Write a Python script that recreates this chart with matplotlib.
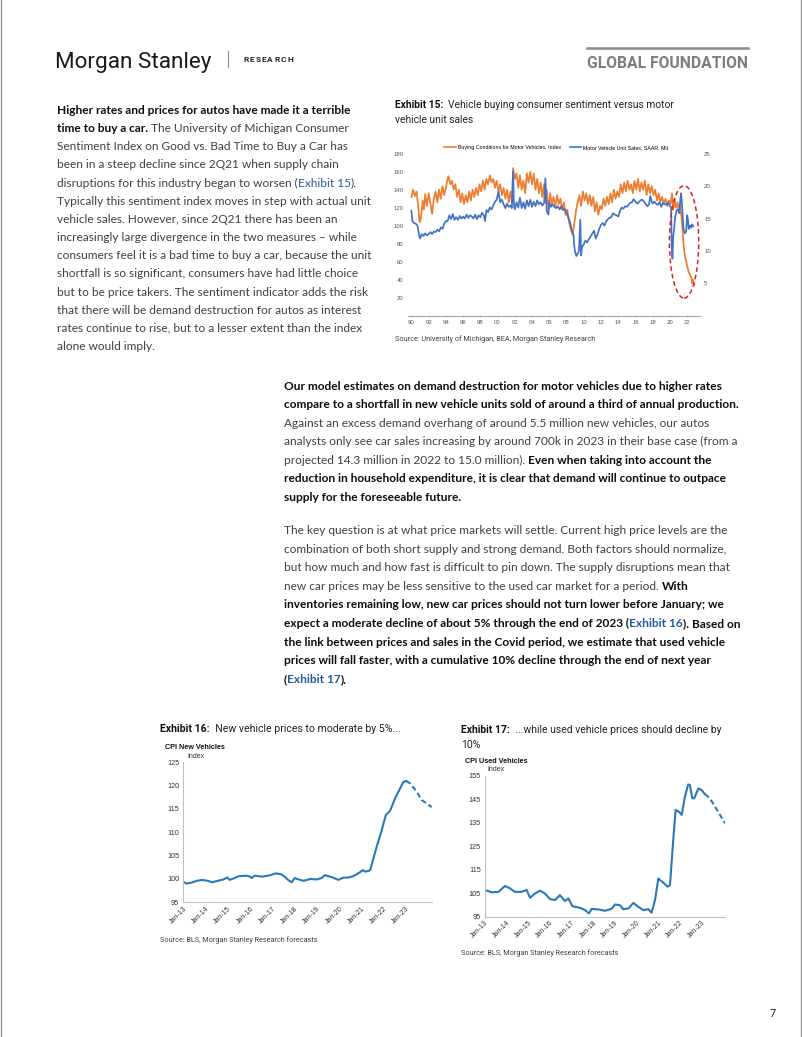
import matplotlib
matplotlib.use("Agg")
import matplotlib.pyplot as plt
from matplotlib.font_manager import FontProperties
from matplotlib.patches import Ellipse
from matplotlib.lines import Line2D

# ---------------- DATA ----------------
# Exhibit 15: buying conditions index (left axis) and unit sales SAAR mil (right axis)
sent_x = [1990.0, 1990.2, 1990.4, 1990.6, 1990.8, 1990.95, 1991.1, 1991.3, 1991.45, 1991.6, 1991.8,
          1992.0, 1992.2, 1992.4, 1992.6, 1992.8, 1993.0, 1993.2, 1993.4, 1993.6, 1993.8, 1994.0,
          1994.15, 1994.3, 1994.5, 1994.7, 1994.9, 1995.1, 1995.3, 1995.5, 1995.7, 1995.9, 1996.1,
          1996.3, 1996.5, 1996.7, 1996.9, 1997.1, 1997.3, 1997.5, 1997.7, 1997.9, 1998.1, 1998.3,
          1998.5, 1998.7, 1998.9, 1999.1, 1999.3, 1999.5, 1999.7, 1999.9, 2000.1, 2000.3, 2000.5,
          2000.7, 2000.9, 2001.1, 2001.3, 2001.5, 2001.7, 2001.8, 2002.0, 2002.2, 2002.4, 2002.6,
          2002.8, 2003.0, 2003.2, 2003.4, 2003.6, 2003.8, 2004.0, 2004.2, 2004.4, 2004.6, 2004.8,
          2005.0, 2005.2, 2005.4, 2005.55, 2005.7, 2005.9, 2006.1, 2006.3, 2006.5, 2006.7, 2006.9,
          2007.1, 2007.3, 2007.5, 2007.7, 2007.9, 2008.1, 2008.3, 2008.5, 2008.7, 2008.9, 2009.1,
          2009.3, 2009.5, 2009.7, 2009.9, 2010.1, 2010.3, 2010.5, 2010.7, 2010.9, 2011.1, 2011.3,
          2011.5, 2011.7, 2011.9, 2012.1, 2012.3, 2012.5, 2012.7, 2012.9, 2013.1, 2013.3, 2013.5,
          2013.7, 2013.9, 2014.1, 2014.3, 2014.5, 2014.7, 2014.9, 2015.1, 2015.3, 2015.5, 2015.7,
          2015.9, 2016.1, 2016.3, 2016.5, 2016.7, 2016.9, 2017.1, 2017.3, 2017.5, 2017.7, 2017.9,
          2018.1, 2018.3, 2018.5, 2018.7, 2018.9, 2019.1, 2019.3, 2019.5, 2019.7, 2019.9, 2020.1,
          2020.25, 2020.4, 2020.55, 2020.7, 2020.9, 2021.05, 2021.2, 2021.35, 2021.5, 2021.6,
          2021.75, 2021.9, 2022.05, 2022.2, 2022.35, 2022.5, 2022.6, 2022.7, 2022.8]
sent_y = [132, 140, 133, 138, 120, 104, 108, 128, 118, 135, 122,
          136, 125, 113, 130, 138, 126, 140, 130, 144, 134, 142,
          150, 155, 146, 150, 140, 146, 132, 140, 126, 136, 124,
          134, 126, 138, 128, 140, 132, 142, 134, 146, 138, 150,
          140, 152, 146, 156, 148, 152, 142, 150, 138, 146, 134,
          142, 130, 140, 126, 138, 124, 164, 152, 158, 142, 156,
          140, 150, 136, 158, 148, 160, 146, 158, 140, 152, 136,
          148, 132, 146, 126, 140, 118, 136, 124, 132, 120, 134,
          124, 130, 118, 126, 112, 118, 104, 96, 90, 102, 116,
          126, 134, 122, 138, 128, 136, 124, 134, 122, 132, 116,
          126, 112, 122, 118, 130, 122, 132, 124, 136, 126, 140,
          130, 138, 132, 146, 136, 148, 138, 150, 140, 146, 136,
          150, 140, 152, 138, 148, 140, 150, 134, 146, 136, 144,
          134, 140, 128, 136, 126, 132, 124, 130, 122, 128, 124,
          136, 118, 130, 120, 126, 116, 122, 110, 92, 78,
          66, 60, 54, 48, 45, 42, 36, 40, 34]

sales_x = [1990.0, 1990.1, 1990.3, 1990.5, 1990.7, 1990.9, 1991.0, 1991.2, 1991.4, 1991.6, 1991.8,
           1992.0, 1992.2, 1992.4, 1992.6, 1992.8, 1993.0, 1993.2, 1993.4, 1993.6, 1993.8, 1994.0,
           1994.2, 1994.4, 1994.6, 1994.8, 1995.0, 1995.2, 1995.4, 1995.6, 1995.8, 1996.0, 1996.2,
           1996.4, 1996.6, 1996.8, 1997.0, 1997.2, 1997.4, 1997.6, 1997.8, 1998.0, 1998.2, 1998.4,
           1998.55, 1998.7, 1998.9, 1999.1, 1999.3, 1999.5, 1999.7, 1999.9, 2000.1, 2000.3, 2000.5,
           2000.7, 2000.9, 2001.1, 2001.3, 2001.5, 2001.65, 2001.8, 2001.9, 2002.0, 2002.2, 2002.4,
           2002.6, 2002.8, 2003.0, 2003.2, 2003.4, 2003.6, 2003.8, 2004.0, 2004.2, 2004.4, 2004.6,
           2004.8, 2005.0, 2005.2, 2005.4, 2005.55, 2005.7, 2005.9, 2006.0, 2006.2, 2006.4, 2006.6,
           2006.8, 2007.0, 2007.2, 2007.4, 2007.6, 2007.8, 2008.0, 2008.2, 2008.4, 2008.6, 2008.8,
           2008.9, 2009.0, 2009.15, 2009.3, 2009.45, 2009.6, 2009.7, 2009.8, 2010.0, 2010.2, 2010.4,
           2010.6, 2010.8, 2011.0, 2011.2, 2011.4, 2011.6, 2011.8, 2012.0, 2012.2, 2012.4, 2012.6,
           2012.8, 2013.0, 2013.2, 2013.4, 2013.6, 2013.8, 2014.0, 2014.2, 2014.4, 2014.6, 2014.8,
           2015.0, 2015.2, 2015.4, 2015.6, 2015.8, 2016.0, 2016.2, 2016.4, 2016.6, 2016.8, 2017.0,
           2017.2, 2017.4, 2017.6, 2017.72, 2017.9, 2018.0, 2018.2, 2018.4, 2018.6, 2018.8, 2019.0,
           2019.2, 2019.4, 2019.6, 2019.8, 2020.0, 2020.15, 2020.2, 2020.3, 2020.4, 2020.5, 2020.6,
           2020.8, 2020.95, 2021.1, 2021.2, 2021.3, 2021.4, 2021.5, 2021.6, 2021.75, 2021.9, 2022.0,
           2022.1, 2022.2, 2022.35, 2022.5, 2022.6, 2022.7]
sales_y = [16.2, 14.6, 14.3, 14.2, 13.9, 12.4, 11.9, 12.6, 12.3, 12.7, 12.4,
           12.6, 12.9, 12.6, 13.0, 12.9, 13.3, 13.0, 13.6, 13.4, 14.2, 14.6,
           14.6, 15.5, 14.9, 15.7, 14.8, 15.2, 14.8, 15.4, 15.0, 15.3, 15.0,
           15.6, 15.1, 15.5, 15.3, 15.0, 15.6, 14.9, 15.5, 15.2, 15.9, 15.5,
           14.6, 16.3, 16.0, 16.7, 16.4, 17.0, 17.6, 17.9, 19.2, 17.5, 17.9,
           17.2, 16.6, 17.3, 16.8, 17.0, 16.6, 22.3, 17.0, 16.4, 17.5, 16.7,
           18.2, 16.6, 17.5, 16.5, 17.8, 16.9, 17.9, 16.8, 17.6, 16.9, 17.8,
           17.2, 17.5, 17.0, 17.4, 21.2, 16.2, 15.6, 17.5, 16.8, 17.2, 16.8,
           16.6, 16.9, 16.4, 16.9, 16.3, 16.5, 15.9, 15.2, 14.5, 13.2, 12.6,
           10.8, 9.8, 9.2, 9.6, 10.0, 14.8, 9.3, 10.6, 11.0, 11.6, 11.3,
           11.8, 12.2, 12.7, 13.1, 11.9, 12.5, 13.4, 14.0, 14.3, 13.9, 14.5,
           14.9, 15.1, 15.2, 15.8, 15.6, 15.5, 15.3, 16.1, 16.7, 16.5, 16.9,
           16.8, 17.1, 17.4, 17.5, 18.0, 17.6, 17.3, 17.5, 17.8, 17.9, 17.6,
           17.2, 16.9, 17.2, 18.5, 17.6, 17.3, 17.6, 17.3, 17.1, 17.5, 16.8,
           17.4, 17.2, 17.1, 17.5, 16.9, 16.8, 11.4, 8.8, 12.3, 13.4, 15.1,
           16.3, 16.4, 15.8, 17.8, 18.9, 17.4, 15.1, 13.3, 12.7, 13.0, 15.5,
           14.8, 13.4, 13.9, 13.6, 14.1, 13.8]

ex15_xticks = [1990, 1992, 1994, 1996, 1998, 2000, 2002, 2004, 2006, 2008, 2010,
               2012, 2014, 2016, 2018, 2020, 2022]
ex15_xlabels = ['90', '92', '94', '96', '98', '00', '02', '04', '06', '08', '10',
                '12', '14', '16', '18', '20', '22']
ex15_left_ticks = [20, 40, 60, 80, 100, 120, 140, 160, 180]
ex15_right_ticks = [5, 10, 15, 20, 25]
ex15_legend = ['Buying Conditions for Motor Vehicles, Index', 'Motor Vehicle Unit Sales, SAAR, Mil.']

# Exhibit 16: CPI new vehicles (actual, forecast)
new_x = [2013.0, 2013.15, 2013.35, 2013.6, 2013.85, 2014.1, 2014.3, 2014.55, 2014.8, 2014.98,
         2015.08, 2015.25, 2015.5, 2015.84, 2016.0, 2016.07, 2016.2, 2016.55, 2016.9, 2017.15,
         2017.4, 2017.55, 2017.7, 2017.87, 2018.0, 2018.1, 2018.4, 2018.7, 2019.0, 2019.2,
         2019.36, 2019.66, 2019.96, 2020.19, 2020.41, 2020.63, 2020.78, 2020.95, 2021.05, 2021.15,
         2021.3, 2021.39, 2021.5, 2021.68, 2021.91, 2022.09, 2022.28, 2022.51, 2022.73, 2022.88,
         2023.0]
new_y = [99.4, 99.0, 99.2, 99.6, 99.8, 99.6, 99.3, 99.6, 99.9, 100.3,
         99.8, 100.1, 100.6, 100.7, 100.5, 100.2, 100.7, 100.5, 100.8, 101.2,
         101.0, 100.5, 99.8, 99.3, 100.2, 100.0, 99.6, 100.0, 99.9, 100.2,
         100.8, 100.4, 99.8, 100.3, 100.3, 100.6, 101.0, 101.5, 101.9, 101.6,
         101.7, 101.9, 103.8, 106.9, 110.5, 113.7, 114.6, 117.3, 119.4, 120.8,
         121.0]
new_fc_x = [2023.0, 2023.18, 2023.48, 2023.7, 2023.93, 2024.15]
new_fc_y = [121.0, 120.5, 118.7, 116.9, 116.2, 115.4]
ex16_yticks = [95, 100, 105, 110, 115, 120, 125]

# Exhibit 17: CPI used vehicles (actual, forecast)
used_x = [2013.0, 2013.31, 2013.62, 2013.92, 2014.15, 2014.38, 2014.69, 2014.92, 2015.08, 2015.31,
          2015.54, 2015.77, 2016.0, 2016.23, 2016.46, 2016.69, 2016.85, 2017.03, 2017.38, 2017.62,
          2017.8, 2017.92, 2018.23, 2018.54, 2018.85, 2019.0, 2019.23, 2019.38, 2019.62, 2019.85,
          2020.08, 2020.31, 2020.54, 2020.69, 2020.85, 2021.0, 2021.23, 2021.43, 2021.54, 2021.69,
          2021.8, 2021.95, 2022.08, 2022.23, 2022.38, 2022.46, 2022.57, 2022.66, 2022.85, 2023.0,
          2023.15]
used_y = [106.4, 105.4, 105.6, 108.1, 107.1, 105.6, 105.6, 106.4, 103.1, 104.9,
          106.1, 104.9, 102.5, 102.1, 104.2, 101.7, 102.8, 99.5, 98.8, 97.8,
          96.4, 98.3, 98.1, 97.5, 98.4, 100.2, 99.9, 98.2, 98.5, 100.9,
          99.2, 97.8, 98.2, 96.7, 102.1, 111.3, 109.5, 107.8, 108.5, 127.7,
          140.5, 139.8, 138.4, 146.2, 151.4, 151.2, 145.5, 145.5, 149.7, 149.0,
          147.3]
used_fc_x = [2023.15, 2023.38, 2023.62, 2023.85, 2024.08]
used_fc_y = [147.3, 145.5, 141.9, 138.4, 134.8]
ex17_yticks = [95, 105, 115, 125, 135, 145, 155]

cpi_xticks = [2013, 2014, 2015, 2016, 2017, 2018, 2019, 2020, 2021, 2022, 2023]
cpi_xlabels = ['Jan-13', 'Jan-14', 'Jan-15', 'Jan-16', 'Jan-17', 'Jan-18', 'Jan-19',
               'Jan-20', 'Jan-21', 'Jan-22', 'Jan-23']

# ---------------- TEXT ----------------
para_left = [
    [('b', 'Higher rates and prices for autos have made it a terrible')],
    [('b', 'time to buy a car.'), ('r', ' The University of Michigan Consumer')],
    [('r', 'Sentiment Index on Good vs. Bad Time to Buy a Car has')],
    [('r', 'been in a steep decline since 2Q21 when supply chain')],
    [('r', 'disruptions for this industry began to worsen ('), ('l', 'Exhibit 15'), ('r', ').')],
    [('r', 'Typically this sentiment index moves in step with actual unit')],
    [('r', 'vehicle sales. However, since 2Q21 there has been an')],
    [('r', 'increasingly large divergence in the two measures \u2013 while')],
    [('r', 'consumers feel it is a bad time to buy a car, because the unit')],
    [('r', 'shortfall is so significant, consumers have had little choice')],
    [('r', 'but to be price takers. The sentiment indicator adds the risk')],
    [('r', 'that there will be demand destruction for autos as interest')],
    [('r', 'rates continue to rise, but to a lesser extent than the index')],
    [('r', 'alone would imply.')],
]
para_mid = [
    [('b', 'Our model estimates on demand destruction for motor vehicles due to higher rates')],
    [('b', 'compare to a shortfall in new vehicle units sold of around a third of annual production.')],
    [('r', 'Against an excess demand overhang of around 5.5 million new vehicles, our autos')],
    [('r', 'analysts only see car sales increasing by around 700k in 2023 in their base case (from a')],
    [('r', 'projected 14.3 million in 2022 to 15.0 million). '), ('b', 'Even when taking into account the')],
    [('b', 'reduction in household expenditure, it is clear that demand will continue to outpace')],
    [('b', 'supply for the foreseeable future.')],
]
para_low = [
    [('r', 'The key question is at what price markets will settle. Current high price levels are the')],
    [('r', 'combination of both short supply and strong demand. Both factors should normalize,')],
    [('r', 'but how much and how fast is difficult to pin down. The supply disruptions mean that')],
    [('r', 'new car prices may be less sensitive to the used car market for a period. '), ('b', 'With')],
    [('b', 'inventories remaining low, new car prices should not turn lower before January; we')],
    [('b', 'expect a moderate decline of about 5% through the end of 2023 ('), ('lb', 'Exhibit 16'),
     ('b', '). Based on')],
    [('b', 'the link between prices and sales in the Covid period, we estimate that used vehicle')],
    [('b', 'prices will fall faster, with a cumulative 10% decline through the end of next year')],
    [('b', '('), ('lb', 'Exhibit 17'), ('b', ').')],
]

# ---------------- FIGURE ----------------
W, H = 802, 1037
fig = plt.figure(figsize=(W / 100, H / 100), dpi=100)
fig.patch.set_facecolor('white')
renderer = fig.canvas.get_renderer()


def fx(px):
    return px / W


def fy(py):
    return 1 - py / H


def rect(l, t, r, b):
    return [fx(l), fy(b), (r - l) / W, (b - t) / H]


BODY = ['Lato', 'DejaVu Sans']
CHART = ['Roboto', 'DejaVu Sans']
TICK = ['Liberation Sans', 'DejaVu Sans']
STYLES = {
    'r': ('normal', '#404040'),
    'b': ('bold', '#0d0d0d'),
    'l': ('normal', '#1f5c9e'),
    'lb': ('bold', '#1f5c9e'),
}


def tw(s, prop):
    w1, _, _ = renderer.get_text_width_height_descent('x' + s + 'x', prop, ismath=False)
    w0, _, _ = renderer.get_text_width_height_descent('xx', prop, ismath=False)
    return w1 - w0


def mkprop(family, size, weight):
    return FontProperties(family=family, size=size, weight=weight)


def runs_width(runs, family, size, styles=STYLES):
    return sum(tw(s, mkprop(family, size, styles[st][0])) for st, s in runs)


def draw_runs(x0, y0, runs, family, size, styles=STYLES):
    x = x0
    for st, s in runs:
        weight, color = styles[st]
        prop = mkprop(family, size, weight)
        fig.text(fx(x), fy(y0), s, fontproperties=prop, color=color, va='baseline', ha='left')
        x += tw(s, prop)


def draw_para(lines, x0, y0, dy, ref_idx, target):
    size = 10.0 * target / runs_width(lines[ref_idx], BODY, 10.0)
    for i, runs in enumerate(lines):
        draw_runs(x0, y0 + i * dy, runs, BODY, size)


def fit_text(x, y, s, target, family, weight='normal', color='black'):
    size = 10.0 * target / tw(s, mkprop(family, 10.0, weight))
    fig.text(fx(x), fy(y), s, fontproperties=mkprop(family, size, weight), color=color,
             va='baseline', ha='left')
    return size


def tracked_text(x, y, s, target, size, family, weight, color):
    prop = mkprop(family, size, weight)
    widths = [tw(c, prop) for c in s]
    gap = (target - sum(widths)) / max(len(s) - 1, 1)
    for c, w in zip(s, widths):
        fig.text(fx(x), fy(y), c, fontproperties=prop, color=color, va='baseline', ha='left')
        x += w + gap


# page border
fig.add_artist(Line2D([fx(0.5), fx(0.5)], [0, 1], color='#9a9a9a', lw=1.0))
fig.add_artist(Line2D([fx(801), fx(801)], [0, 1], color='#9a9a9a', lw=1.0))

# header
fit_text(55, 68, 'Morgan Stanley', 156, CHART, 'normal', '#1a1a1a')
fig.add_artist(Line2D([fx(228), fx(228)], [fy(51), fy(67)], color='#8a8a8a', lw=0.8))
tracked_text(243, 62, 'RESEARCH', 50, 6.0, CHART, 'bold', '#222222')
fig.add_artist(Line2D([fx(587), fx(748)], [fy(48), fy(48)], color='#8c8c8c', lw=1.8))
fit_text(587, 68, 'GLOBAL FOUNDATION', 161, CHART, 'bold', '#7f7f7f')

# body paragraphs
draw_para(para_left, 57, 114, 18.15, 8, 313)
draw_para(para_mid, 284, 390, 18.45, 1, 459)
draw_para(para_low, 284, 534, 18.6, 5, 457)

TSTYLE = {'b': ('bold', '#111111'), 'r': ('normal', '#222222')}


def title(x, y, runs_lines, target, dy):
    size = 10.0 * target / runs_width(runs_lines[0], CHART, 10.0, TSTYLE)
    for i, runs in enumerate(runs_lines):
        draw_runs(x, y + i * dy, runs, CHART, size, TSTYLE)


title(395, 108, [[('b', 'Exhibit 15:'), ('r', '  Vehicle buying consumer sentiment versus motor')],
                 [('r', 'vehicle unit sales')]], 281, 15)
title(160, 732, [[('b', 'Exhibit 16:'), ('r', '  New vehicle prices to moderate by 5%...')]], 239, 15)
title(461, 733, [[('b', 'Exhibit 17:'), ('r', '  ...while used vehicle prices should decline by')],
                 [('r', '10%')]], 259, 15)

SRC = dict(fontsize=5.2, color='#404040', family=CHART, va='baseline')
fig.text(fx(395), fy(341), 'Source: University of Michigan, BEA, Morgan Stanley Research', **SRC)
fig.text(fx(160), fy(942), 'Source: BLS, Morgan Stanley Research forecasts', **SRC)
fig.text(fx(461), fy(955), 'Source: BLS, Morgan Stanley Research forecasts', **SRC)

fig.text(fx(770), fy(1017), '7', fontsize=8, color='#222222', family=CHART, va='baseline')

# ---------------- Exhibit 15 chart ----------------
ORANGE = '#ED7D31'
BLUE = '#4472C4'
ax = fig.add_axes(rect(408, 153.7, 700, 315.7))
ax.plot(sent_x, sent_y, color=ORANGE, lw=1.25)
ax.set_xlim(1989.6, 2023.5)
ax.set_ylim(0, 180)
ax.set_yticks(ex15_left_ticks)
ax.set_xticks(ex15_xticks)
ax.set_xticklabels(ex15_xlabels)
for s in ['top', 'right', 'left']:
    ax.spines[s].set_visible(False)
ax.spines['bottom'].set_color('#a6a6a6')
ax.spines['bottom'].set_linewidth(0.8)
ax.tick_params(axis='y', length=0, labelsize=4.3, labelcolor='#595959', pad=3)
ax.tick_params(axis='x', length=2, width=0.5, color='#a6a6a6', labelsize=4.3,
               labelcolor='#595959', pad=2, direction='inout')
for lab in ax.get_xticklabels() + ax.get_yticklabels():
    lab.set_family(TICK)
ax.patch.set_alpha(0)

ax2 = ax.twinx()
ax2.plot(sales_x, sales_y, color=BLUE, lw=1.25)
ax2.set_ylim(0, 25)
ax2.set_yticks(ex15_right_ticks)
for s in ['top', 'right', 'left', 'bottom']:
    ax2.spines[s].set_visible(False)
ax2.tick_params(axis='y', length=0, labelsize=4.3, labelcolor='#595959', pad=3)
for lab in ax2.get_yticklabels():
    lab.set_family(TICK)

# highlight annotation around the 2021-22 divergence
ell = Ellipse((2021.65, 82), width=3.4, height=125, fill=False, edgecolor='#e0201e',
              lw=1.1, ls=(0, (3, 2)), zorder=5)
ax2.add_patch(ell)
ell.set_transform(ax.transData)

handles = [Line2D([], [], color=ORANGE, lw=1.2), Line2D([], [], color=BLUE, lw=1.2)]
ax.legend(handles, ex15_legend, loc='lower center', bbox_to_anchor=(0.51, 1.0), ncol=2,
          frameon=False, prop=FontProperties(family=TICK, size=3.8), handlelength=2.2,
          handletextpad=0.4, columnspacing=1.6, borderaxespad=0.3)

# ---------------- Exhibit 16 / 17 charts ----------------
CPI_BLUE = '#2a79b5'


def cpi_chart(r, ax_x, ax_y, fc_x, fc_y, yticks, ylab, lab_xy, idx_xy):
    a = fig.add_axes(r)
    a.plot(ax_x, ax_y, color=CPI_BLUE, lw=1.5, solid_capstyle='round')
    a.plot(fc_x, fc_y, color=CPI_BLUE, lw=1.5, ls=(0, (2.5, 1.5)))
    a.set_xlim(2013.0, max(fc_x))
    a.set_ylim(yticks[0], yticks[-1])
    a.set_yticks(yticks)
    a.set_xticks(cpi_xticks)
    a.set_xticklabels(cpi_xlabels, rotation=45, ha='right', rotation_mode='anchor')
    for s in ['top', 'right']:
        a.spines[s].set_visible(False)
    for s in ['left', 'bottom']:
        a.spines[s].set_color('#bfbfbf')
        a.spines[s].set_linewidth(0.8)
    a.tick_params(axis='y', length=0, labelsize=5.2, labelcolor='#333333', pad=3)
    a.tick_params(axis='x', length=0, labelsize=5.0, labelcolor='#333333', pad=2)
    for lab in a.get_xticklabels() + a.get_yticklabels():
        lab.set_family(TICK)
    fig.text(fx(lab_xy[0]), fy(lab_xy[1]), ylab, fontsize=5.2, weight='bold', family=TICK,
             color='#111111', va='baseline')
    fig.text(fx(idx_xy[0]), fy(idx_xy[1]), 'Index', fontsize=5.0, family=TICK,
             color='#333333', va='baseline')
    return a


cpi_chart(rect(183.3, 762.3, 431.7, 902.3), new_x, new_y, new_fc_x, new_fc_y, ex16_yticks,
          'CPI New Vehicles', (165, 749), (187, 758))
cpi_chart(rect(485, 776, 725, 916.7), used_x, used_y, used_fc_x, used_fc_y, ex17_yticks,
          'CPI Used Vehicles', (465, 763), (487, 771))

fig.savefig('out.png', dpi=100, facecolor='white')
